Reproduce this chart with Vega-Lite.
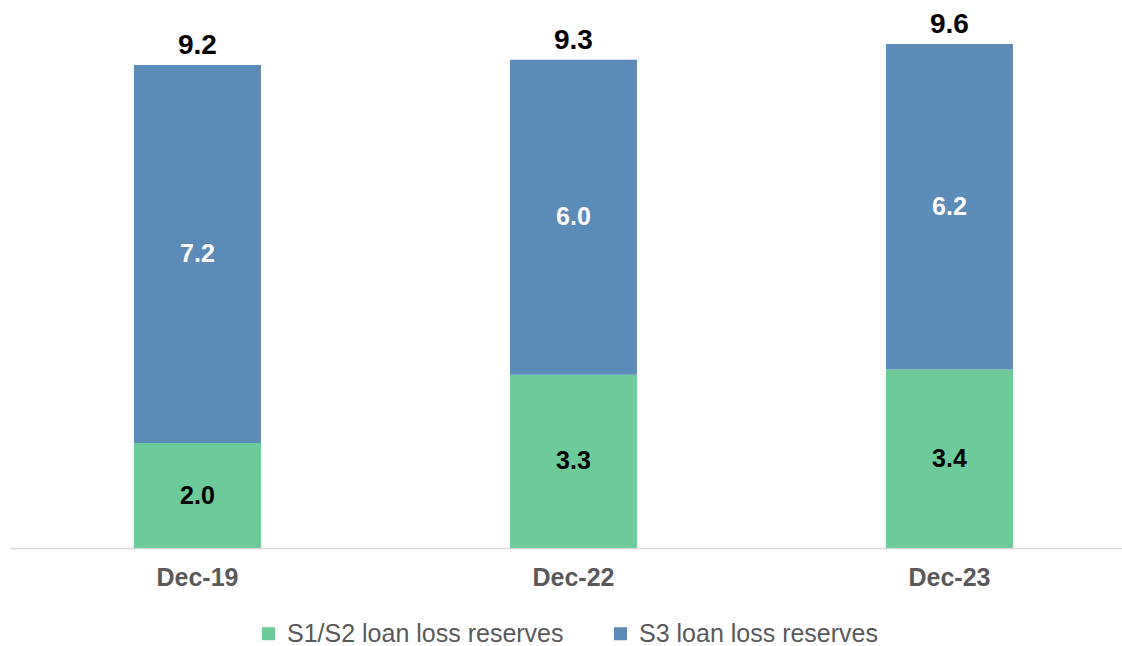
{
  "$schema": "https://vega.github.io/schema/vega-lite/v6.json",
  "autosize": {"type": "none"},
  "width": 1112,
  "height": 548,
  "padding": {"left": 10, "top": 0, "right": 0, "bottom": 98},
  "background": "white",
  "config": {"view": {"stroke": null}, "font": "Liberation Sans"},
  "data": {
    "values": [
      {"period": "Dec-19", "series": "S1/S2 loan loss reserves", "amount": 2.0},
      {"period": "Dec-19", "series": "S3 loan loss reserves", "amount": 7.2},
      {"period": "Dec-22", "series": "S1/S2 loan loss reserves", "amount": 3.3},
      {"period": "Dec-22", "series": "S3 loan loss reserves", "amount": 6.0},
      {"period": "Dec-23", "series": "S1/S2 loan loss reserves", "amount": 3.4},
      {"period": "Dec-23", "series": "S3 loan loss reserves", "amount": 6.2}
    ]
  },
  "encoding": {
    "x": {
      "field": "period",
      "type": "nominal",
      "sort": ["Dec-19", "Dec-22", "Dec-23"],
      "scale": {"paddingInner": 0.6622, "paddingOuter": 0.3098, "align": 0.532},
      "axis": {
        "title": null,
        "labelAngle": 0,
        "ticks": false,
        "domainColor": "#D9D9D9",
        "domainWidth": 1.5,
        "labelFontSize": 25,
        "labelFontWeight": "bold",
        "labelColor": "#595959",
        "labelPadding": 17
      }
    }
  },
  "layer": [
    {
      "mark": {"type": "bar"},
      "encoding": {
        "y": {"field": "amount", "type": "quantitative", "aggregate": "sum", "stack": "zero", "scale": {"domain": [0, 10.44], "nice": false}, "axis": null},
        "color": {
          "field": "series",
          "type": "nominal",
          "scale": {"domain": ["S1/S2 loan loss reserves", "S3 loan loss reserves"], "range": ["#6DCB99", "#5B8BB6"]},
          "legend": {
            "title": null,
            "orient": "none",
            "legendX": 246,
            "legendY": 621,
            "direction": "horizontal",
            "symbolType": "square",
            "symbolSize": 169,
            "symbolStrokeWidth": 0,
            "labelFontSize": 25,
            "labelColor": "#595959",
            "labelOffset": 6,
            "columnPadding": 44,
            "labelLimit": 400
          }
        },
        "order": {"field": "series", "sort": "ascending"}
      }
    },
    {
      "transform": [
        {"stack": "amount", "groupby": ["period"], "sort": [{"field": "series", "order": "ascending"}], "as": ["v0", "v1"]},
        {"fold": ["v0", "v1"], "as": ["edge", "pos"]}
      ],
      "mark": {"type": "text", "fontSize": 25, "fontWeight": "bold", "baseline": "middle", "align": "center"},
      "encoding": {
        "y": {"field": "pos", "type": "quantitative", "aggregate": "mean"},
        "detail": {"field": "series"},
        "text": {"field": "amount", "type": "quantitative", "aggregate": "max", "format": ".1f"},
        "color": {"condition": {"test": "datum.series === 'S3 loan loss reserves'", "value": "white"}, "value": "black"}
      }
    },
    {
      "mark": {"type": "text", "fontSize": 28, "fontWeight": "bold", "baseline": "alphabetic", "align": "center", "dy": -11, "color": "black"},
      "encoding": {
        "y": {"field": "amount", "type": "quantitative", "aggregate": "sum"},
        "text": {"field": "amount", "type": "quantitative", "aggregate": "sum", "format": ".1f"}
      }
    }
  ]
}
